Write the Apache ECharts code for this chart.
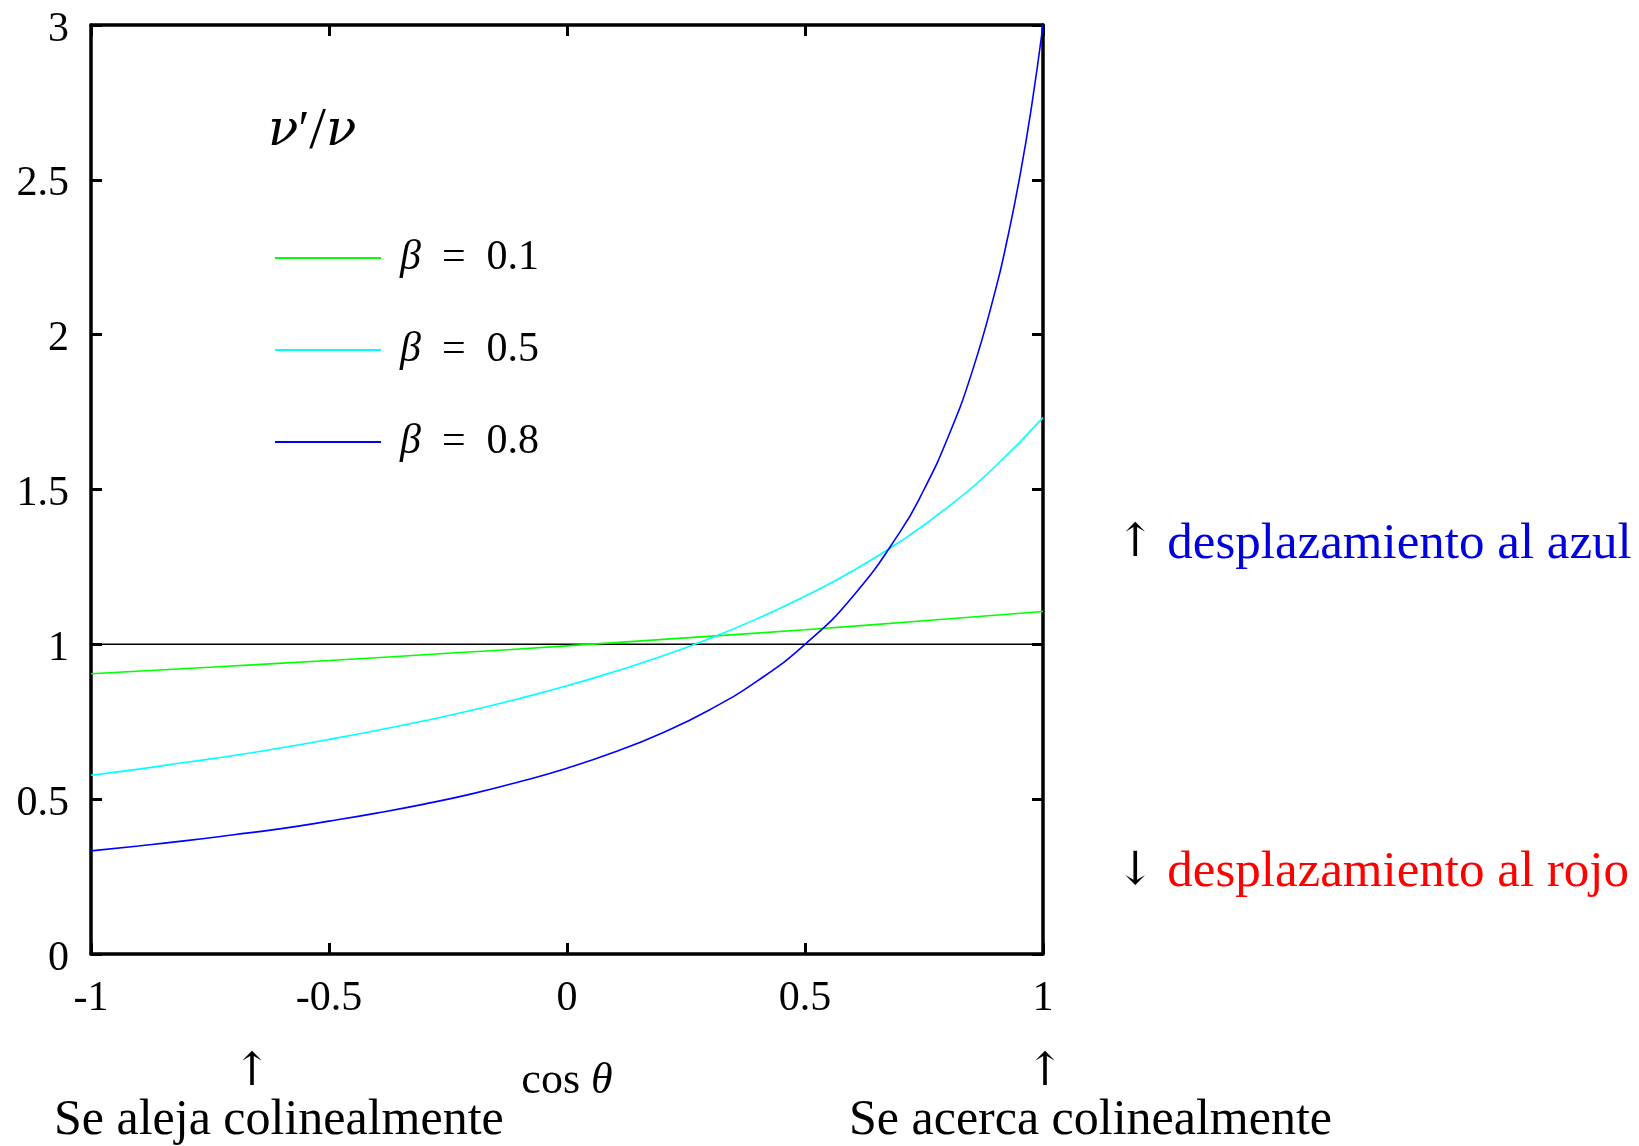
<!DOCTYPE html>
<html>
<head>
<meta charset="utf-8">
<script src="https://cdn.jsdelivr.net/npm/echarts@6/dist/echarts.min.js"></script>
<style>
  html, body { margin: 0; padding: 0; background: #fff; }
  #main { width: 1639px; height: 1146px; }
</style>
</head>
<body>
<div id="main"></div>
<script>
// cos(theta) values and nu'/nu
var cosB1 = [-1, -0.75, -0.5, -0.25, 0, 0.25, 0.5, 0.75, 1];
var valB1 = [0.905, 0.926, 0.948, 0.971, 0.995, 1.021, 1.047, 1.076, 1.106];

var cosB5 = [-1, -0.9, -0.8, -0.7, -0.6, -0.5, -0.4, -0.3, -0.2, -0.1, 0, 0.1, 0.2, 0.3, 0.4, 0.5, 0.6, 0.7, 0.8, 0.9, 1];
var valB5 = [0.577, 0.597, 0.619, 0.641, 0.666, 0.693, 0.722, 0.753, 0.787, 0.825, 0.866, 0.912, 0.962, 1.019, 1.083, 1.155, 1.237, 1.332, 1.443, 1.575, 1.732];

var cosB8 = [-1, -0.9, -0.8, -0.7, -0.6, -0.5, -0.4, -0.3, -0.2, -0.1, 0, 0.1, 0.2, 0.3, 0.4, 0.5, 0.6, 0.7, 0.75, 0.8, 0.85, 0.9, 0.925, 0.95, 0.975, 1];
var valB8 = [0.333, 0.349, 0.366, 0.385, 0.405, 0.429, 0.455, 0.484, 0.517, 0.556, 0.6, 0.652, 0.714, 0.789, 0.882, 1.0, 1.154, 1.364, 1.5, 1.667, 1.875, 2.143, 2.308, 2.5, 2.727, 3.0];

var refX = [-1, 1];
var refY = [1, 1];

var names = ['β = 0.1', 'β = 0.5', 'β = 0.8'];
var colors = ['#00ff00', '#00ffff', '#0000ff'];

function pairs(xs, ys) {
  var out = [];
  for (var i = 0; i < xs.length; i++) out.push([xs[i], ys[i]]);
  return out;
}

var FONT = 'Liberation Serif';
var ARROW = 'DejaVu Serif';

var chart = echarts.init(document.getElementById('main'));

var axisBase = {
  type: 'value',
  axisLine: { show: true, onZero: false, lineStyle: { color: '#000', width: 3.5 } },
  axisTick: { show: true, inside: true, length: 11, lineStyle: { color: '#000', width: 3 } },
  splitLine: { show: false }
};

function curve(name, data, color) {
  return {
    name: name,
    type: 'line',
    data: data,
    smooth: true,
    symbol: 'none',
    lineStyle: { color: color, width: 1.6 },
    itemStyle: { color: color },
    z: 3
  };
}

function arrow(ch, x, y) {
  return {
    type: 'text', x: x, y: y,
    style: { text: ch, font: '46px "' + ARROW + '"', fill: '#000', align: 'center', verticalAlign: 'middle' }
  };
}

chart.setOption({
  backgroundColor: '#fff',
  animation: false,
  grid: { left: 91, right: 596, top: 25, bottom: 192 },
  legend: {
    data: names,
    orient: 'vertical',
    left: 270,
    top: 232,
    icon: 'rect',
    itemWidth: 106,
    itemHeight: 2,
    itemGap: 50,
    formatter: function (name) {
      return '{i|β}  =  ' + name.split('=')[1].trim();
    },
    textStyle: {
      fontFamily: FONT, fontSize: 42, color: '#000', lineHeight: 40,
      padding: [0, 0, 0, 14],
      rich: { i: { fontFamily: FONT, fontStyle: 'italic', fontSize: 42 } }
    }
  },
  xAxis: [
    Object.assign({}, axisBase, {
      min: -1, max: 1, interval: 0.5, position: 'bottom',
      name: '{r|cos} {i|θ}',
      nameLocation: 'middle',
      nameGap: 105,
      nameTextStyle: {
        fontFamily: FONT, fontSize: 44, color: '#000',
        rich: { r: { fontFamily: FONT, fontSize: 44 }, i: { fontFamily: FONT, fontStyle: 'italic', fontSize: 44 } }
      },
      axisLabel: { fontFamily: FONT, fontSize: 42, color: '#000', margin: 24 }
    }),
    Object.assign({}, axisBase, {
      min: -1, max: 1, interval: 0.5, position: 'top',
      axisLabel: { show: false }
    })
  ],
  yAxis: [
    Object.assign({}, axisBase, {
      min: 0, max: 3, interval: 0.5, position: 'left',
      axisLabel: {
        color: '#000', margin: 22,
        formatter: function (v) { return '{n|' + v + '}'; },
        rich: { n: { fontFamily: FONT, fontSize: 42, color: '#000', padding: [9, 0, 0, 0] } }
      }
    }),
    Object.assign({}, axisBase, {
      min: 0, max: 3, interval: 0.5, position: 'right',
      axisLabel: { show: false }
    })
  ],
  series: [
    {
      name: 'ref',
      type: 'line',
      data: pairs(refX, refY),
      symbol: 'none',
      lineStyle: { color: '#000', width: 1.5 },
      z: 2
    },
    curve(names[0], pairs(cosB1, valB1), colors[0]),
    curve(names[1], pairs(cosB5, valB5), colors[1]),
    curve(names[2], pairs(cosB8, valB8), colors[2])
  ],
  graphic: [
    {
      type: 'text', left: 268, top: 102,
      style: {
        text: '{i|ν}{r|′}{s|/}{i|ν}',
        font: '50px "' + FONT + '"', fill: '#000',
        rich: {
          i: { fontFamily: ARROW, fontStyle: 'italic', fontSize: 50 },
          r: { fontFamily: FONT, fontSize: 50 },
          s: { fontFamily: FONT, fontSize: 60 }
        }
      }
    },
    arrow('↑', 252, 1073),
    arrow('↑', 1045, 1073),
    { type: 'text', left: 54, top: 1096, style: { text: 'Se aleja colinealmente', font: '50px "' + FONT + '"', fill: '#000' } },
    { type: 'text', left: 849, top: 1096, style: { text: 'Se acerca colinealmente', font: '50px "' + FONT + '"', fill: '#000' } },
    {
      type: 'text', left: 1116, top: 519,
      style: {
        text: '{a|↑} {b|desplazamiento al azul}',
        font: '51px "' + FONT + '"', fill: '#000',
        rich: {
          a: { fontFamily: ARROW, fontSize: 46, fill: '#000', color: '#000' },
          b: { fontFamily: FONT, fontSize: 51, fill: '#0000dd', color: '#0000dd' }
        }
      }
    },
    {
      type: 'text', left: 1116, top: 847,
      style: {
        text: '{a|↓} {r|desplazamiento al rojo}',
        font: '51px "' + FONT + '"', fill: '#000',
        rich: {
          a: { fontFamily: ARROW, fontSize: 46, fill: '#000', color: '#000' },
          r: { fontFamily: FONT, fontSize: 51, fill: '#ff0000', color: '#ff0000' }
        }
      }
    }
  ]
});
</script>
</body>
</html>
